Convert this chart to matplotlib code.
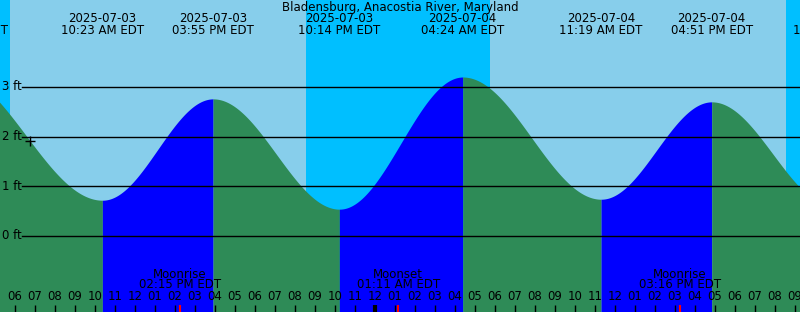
"""Tide chart - Bladensburg, Anacostia River, Maryland."""
import numpy as np
import pandas as pd
import matplotlib
matplotlib.use('Agg')
import matplotlib.pyplot as plt
import matplotlib.transforms as mtrans

# ---- data ----
T0 = pd.Timestamp('2025-07-03 00:00')
# curve extremes (first and last are off the chart, estimated from the edges)
tide_times = ['2025-07-03 02:48', '2025-07-03 10:23', '2025-07-03 15:55',
              '2025-07-03 22:14', '2025-07-04 04:24', '2025-07-04 11:19',
              '2025-07-04 16:51', '2025-07-04 22:58']
tide_heights = [3.3, 0.72, 2.76, 0.54, 3.2, 0.74, 2.7, 0.6]
# header labels (edge ones only partly visible)
label_times = ['2025-07-03 03:34', '2025-07-03 10:23', '2025-07-03 15:55',
               '2025-07-03 22:14', '2025-07-04 04:24', '2025-07-04 11:19',
               '2025-07-04 16:51', '2025-07-04 22:58']
tide_labels = ['03:34 AM EDT', '10:23 AM EDT', '03:55 PM EDT', '10:14 PM EDT',
               '04:24 AM EDT', '11:19 AM EDT', '04:51 PM EDT', '10:58 PM EDT']
tide_dates = ['2025-07-03', '2025-07-03', '2025-07-03', '2025-07-03',
              '2025-07-04', '2025-07-04', '2025-07-04', '2025-07-04']

sun_rise = ['2025-07-03 05:46', '2025-07-04 05:46']
sun_set = ['2025-07-03 20:34', '2025-07-04 20:34']

moon_times = ['2025-07-03 14:15', '2025-07-04 01:11', '2025-07-04 15:16']
moon_kind = ['Moonrise', 'Moonset', 'Moonrise']
moon_labels = ['02:15 PM EDT', '01:11 AM EDT', '03:16 PM EDT']

ft_levels = [0, 1, 2, 3]
now_time = '2025-07-03 06:46'
now_height = 1.91

DAY = '#87CEEB'
NIGHT = '#00BFFF'
FALL = '#2E8B57'
RISE = '#0000FF'
FS = 8.5


def hrs(s):
    return (pd.Timestamp(s) - T0).total_seconds() / 3600.0


X0, X1 = 5.265, 45.265
Y0, Y1 = -1.53, 4.75
W, H = 800, 312

fig = plt.figure(figsize=(8, 3.12), dpi=100)
ax = fig.add_axes([0, 0, 1, 1])
ax.set_xlim(X0, X1)
ax.set_ylim(Y0, Y1)
ax.axis('off')
tr = mtrans.blended_transform_factory(ax.transData, ax.transAxes)


def ypx(p):
    return 1 - p / H


# day / night background
ax.axvspan(X0, X1, color=DAY, lw=0, zorder=0)
edges = [X0] + [hrs(s) for pair in zip(sun_rise, sun_set) for s in pair] + [X1]
for a, b in zip(edges[0::2], edges[1::2]):
    ax.axvspan(a, b, color=NIGHT, lw=0, zorder=0)

# tide curve between extremes (cosine between highs and lows)
th = np.array([hrs(s) for s in tide_times])
hh = np.array(tide_heights)
for i in range(len(th) - 1):
    t = np.linspace(th[i], th[i + 1], 200)
    f = (t - th[i]) / (th[i + 1] - th[i])
    y = hh[i] + (hh[i + 1] - hh[i]) * (1 - np.cos(np.pi * f)) / 2
    col = RISE if hh[i + 1] > hh[i] else FALL
    ax.fill_between(t, Y0, y, color=col, lw=0, zorder=1)

# height lines
for lv in ft_levels:
    ax.plot([X0 + 22 / 20, X1], [lv, lv], color='black', lw=1, zorder=3)
    ax.text(X0 + 2 / 20, lv, f'{lv} ft', fontsize=FS, va='center', ha='left', zorder=4)

# "now" marker
ax.plot(hrs(now_time), now_height, marker='+', color='black', ms=7, mew=1, zorder=5)

# title and tide labels
ax.text((X0 + X1) / 2, ypx(7), 'Bladensburg, Anacostia River, Maryland',
        transform=tr, fontsize=FS, ha='center', va='center', zorder=6)
for s, d, lab in zip(label_times, tide_dates, tide_labels):
    t = hrs(s)
    ax.text(t, ypx(19), d, transform=tr, fontsize=FS, ha='center', va='center', zorder=6)
    ax.text(t, ypx(31), lab, transform=tr, fontsize=FS, ha='center', va='center', zorder=6)

# hour ticks
for h in range(int(np.ceil(X0)), int(X1) + 1):
    lw = 3 if h % 24 == 0 else 1
    ax.plot([h, h], [ypx(305), 0], transform=tr, color='black', lw=lw,
            solid_capstyle='butt', zorder=4)
    ax.text(h, ypx(297), f'{(h - 1) % 12 + 1:02d}', transform=tr, fontsize=FS,
            ha='center', va='center', zorder=6)

# moon events
for s, kind, lab in zip(moon_times, moon_kind, moon_labels):
    t = hrs(s)
    ax.plot([t, t], [ypx(305), 0], transform=tr, color='red', lw=1.5,
            solid_capstyle='butt', zorder=5)
    ax.text(t, ypx(274), kind, transform=tr, fontsize=FS, ha='center', va='center', zorder=6)
    ax.text(t, ypx(285), lab, transform=tr, fontsize=FS, ha='center', va='center', zorder=6)

fig.savefig('out.png', dpi=100)
